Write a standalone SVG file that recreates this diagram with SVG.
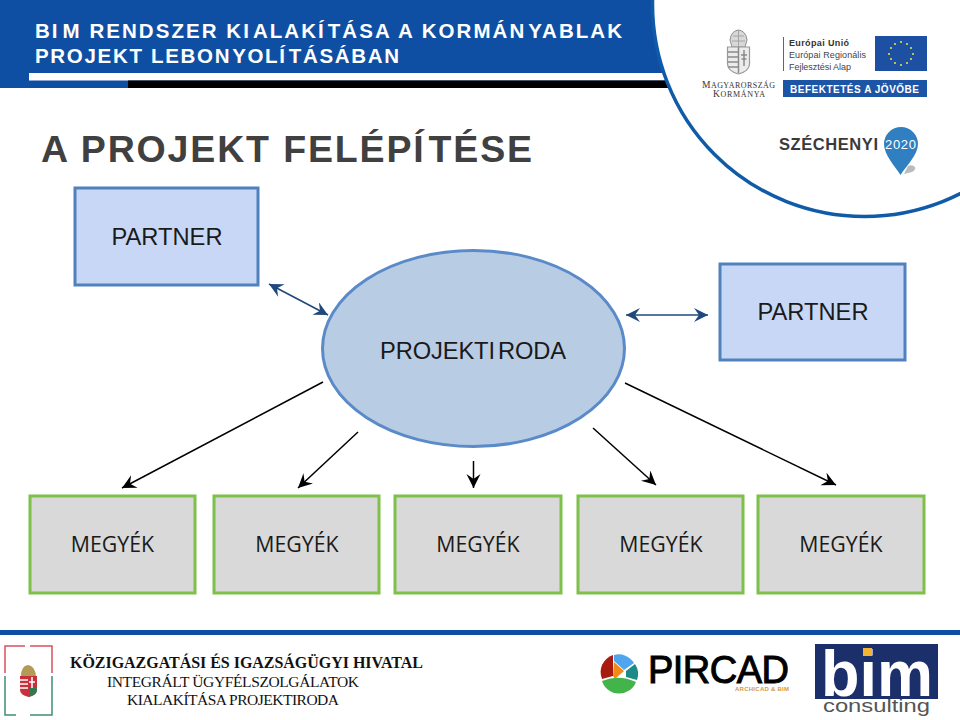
<svg xmlns="http://www.w3.org/2000/svg" width="960" height="720" viewBox="0 0 960 720">
<style>
text{font-family:"Liberation Sans",Arial,sans-serif}
.serif{font-family:"Liberation Serif","Times New Roman",serif}
.partner{fill:#c9d7f6;stroke:#4f81bd;stroke-width:3}
.megye{fill:#d9d9d9;stroke:#7fc04a;stroke-width:3}
.lbl{font-size:23.7px;fill:#1a1a1a;text-anchor:middle}
.mlbl{font-family:"Open Sans",sans-serif;font-size:21.3px;fill:#1a1a1a;text-anchor:middle}
.blue{fill:none;stroke:#1f497d;stroke-width:1.6;marker-start:url(#bs);marker-end:url(#be)}
.black{fill:none;stroke:#000;stroke-width:1.5;marker-end:url(#ke)}
</style>
<defs>
<marker id="be" markerUnits="userSpaceOnUse" markerWidth="20" markerHeight="16" refX="14" refY="7" orient="auto"><path d="M0 0L14 7L0 14L5 7Z" fill="#1f497d"/></marker>
<marker id="bs" markerUnits="userSpaceOnUse" markerWidth="20" markerHeight="16" refX="0" refY="7" orient="auto"><path d="M14 0L0 7L14 14L9 7Z" fill="#1f497d"/></marker>
<marker id="ke" markerUnits="userSpaceOnUse" markerWidth="20" markerHeight="16" refX="14" refY="7" orient="auto"><path d="M0 0L14 7L0 14L5 7Z" fill="#000"/></marker>
</defs>
<rect width="960" height="720" fill="#fff"/>
<g id="header">
<rect x="0" y="0" width="690" height="88" fill="#0f4fa3"/>
<rect x="29" y="73" width="660" height="7.5" fill="#fff"/>
<rect x="128" y="80.500" width="560" height="7.500" fill="#000"/>
<text y="37.500" x="35" font-size="20.500" font-weight="700" fill="#fff" textLength="587" lengthAdjust="spacing">BI<tspan dx="3">M</tspan> RENDSZER KI<tspan dx="2">ALAKÍ</tspan><tspan dx="2">TÁSA</tspan> A KORMÁN<tspan dx="2">YABLAK</tspan></text>
<text y="63" x="35" font-size="20.500" font-weight="700" fill="#fff" textLength="364" lengthAdjust="spacing">PROJEKT LEBON<tspan dx="1">YOLÍ</tspan><tspan dx="2">TÁSÁBAN</tspan></text>
<text id="title" x="41" y="162" font-size="37.500" font-weight="700" fill="#404040" textLength="491" lengthAdjust="spacing">A PROJEKT FELÉPÍ<tspan dx="3">TÉSE</tspan></text>
</g>
<g id="logos-top">
<circle cx="864.500" cy="4.500" r="212" fill="#fff" stroke="#0f5ba8" stroke-width="3.500"/>
<g id="coat-of-arms">
<path d="M730 40Q731 31 738.500 30Q746 31 747 40L745 47H732Z" fill="#d8d8d8" stroke="#8f8f8f" stroke-width="1"/>
<path d="M733 36H744M732 41H745M738.500 30V47" stroke="#9a9a9a" stroke-width="0.800" fill="none"/>
<path d="M727.500 47H749.500V64Q749.500 71 738.500 74Q727.500 71 727.500 64Z" fill="#ececec" stroke="#9a9a9a" stroke-width="1.200"/>
<path d="M738.500 47V73M728 52H738M728 57H738M728 62H738M728 67H738M744 50V66M741 55H747M741.500 59H746.500" stroke="#8a8a8a" stroke-width="1.500" fill="none"/>
</g>
<text class="serif" x="702" y="87.500" font-size="8" fill="#333" textLength="73" lengthAdjust="spacing"><tspan font-size="9.500">M</tspan>AGYARORSZÁG</text>
<text class="serif" x="713" y="97" font-size="8" fill="#333" textLength="52" lengthAdjust="spacing"><tspan font-size="9.500">K</tspan>ORMÁNYA</text>
<path d="M783.500 37V71" stroke="#666" stroke-width="1"/>
<text x="789" y="46" font-size="9" font-weight="700" fill="#333" textLength="60" lengthAdjust="spacing">Európai Unió</text>
<text x="789" y="58" font-size="9" fill="#444" textLength="77" lengthAdjust="spacing">Európai Regionális</text>
<text x="789" y="70" font-size="9" fill="#444" textLength="62" lengthAdjust="spacing">Fejlesztési Alap</text>
<rect x="875" y="36" width="52" height="35" fill="#1d4fa2"/>
<g fill="#d8e04a"><circle cx="901" cy="42" r="1.100"/><circle cx="907" cy="44" r="1.100"/><circle cx="911" cy="48" r="1.100"/><circle cx="913" cy="54" r="1.100"/><circle cx="911" cy="59" r="1.100"/><circle cx="907" cy="63" r="1.100"/><circle cx="901" cy="65" r="1.100"/><circle cx="895" cy="63" r="1.100"/><circle cx="891" cy="59" r="1.100"/><circle cx="889" cy="54" r="1.100"/><circle cx="891" cy="48" r="1.100"/><circle cx="895" cy="44" r="1.100"/></g>
<rect x="783" y="80" width="144" height="17" fill="#1d55a6"/>
<text x="790" y="92.500" font-size="10" font-weight="700" fill="#fff" textLength="129" lengthAdjust="spacing">BEFEKTETÉS A JÖVŐBE</text>
<text x="779" y="150" font-size="16.500" font-weight="700" fill="#3a3a3a" textLength="99" lengthAdjust="spacing">SZÉCHENYI</text>
<path d="M908 166Q912 164 915 167Q916 170 912 172L904 174Z" fill="#bbb"/>
<path d="M884 144A17 17 0 0 1 918 144C918 155 906 166 900.500 175C895 166 884 155 884 144Z" fill="#2f7fc1"/>
<text x="885" y="149" font-size="13" fill="#fff" textLength="31" lengthAdjust="spacing">2020</text>
</g>
<g id="partner-1"><rect class="partner" x="75" y="188" width="183" height="97"/><text class="lbl" x="167" y="245">PARTNER</text></g>
<g id="partner-2"><rect class="partner" x="720" y="264" width="185" height="96"/><text class="lbl" x="813" y="320">PARTNER</text></g>
<g id="projektiroda"><ellipse cx="473.500" cy="348.500" rx="151" ry="98" fill="#b8cce4" stroke="#5b8ac8" stroke-width="3"/><text class="lbl" x="380" y="359" style="text-anchor:start" textLength="186" lengthAdjust="spacing">PROJEKTI<tspan dx="3">RODA</tspan></text></g>
<g id="megye-1"><rect class="megye" x="30" y="496" width="165" height="97"/><text class="mlbl" x="112.500" y="552">MEGYÉK</text></g>
<g id="megye-2"><rect class="megye" x="214" y="496" width="165" height="97"/><text class="mlbl" x="297" y="552">MEGYÉK</text></g>
<g id="megye-3"><rect class="megye" x="395" y="496" width="166" height="97"/><text class="mlbl" x="478" y="552">MEGYÉK</text></g>
<g id="megye-4"><rect class="megye" x="578" y="496" width="165" height="97"/><text class="mlbl" x="661" y="552">MEGYÉK</text></g>
<g id="megye-5"><rect class="megye" x="758" y="496" width="166" height="97"/><text class="mlbl" x="841" y="552">MEGYÉK</text></g>
<g id="connectors">
<path class="blue" d="M269 284L328 315"/>
<path class="blue" d="M626 315H708"/>
<path class="black" d="M323 382L122 488"/>
<path class="black" d="M358 432L298 488"/>
<path class="black" d="M473.500 461V488"/>
<path class="black" d="M593 428L656 485"/>
<path class="black" d="M625 383L836 485"/>
</g>
<g id="footer">
<rect x="0" y="630" width="960" height="5" fill="#0f4fa3"/>
<path d="M5 673V646H25M30 646H52V673" fill="none" stroke="#d9505f" stroke-width="1.500"/>
<path d="M5 676V715H16M30 715H52V676" fill="none" stroke="#3f8f72" stroke-width="1.500"/>
<path d="M21 676Q21 666 28 665Q35 666 36 676Z" fill="#b39a55"/>
<path d="M20 676H37V690Q37 695 28.500 697Q20 695 20 690Z" fill="#c8303c"/>
<path d="M20 680H28M20 684H28M20 688H28M32 677V692M29 682H35" stroke="#fff" stroke-width="1.500" fill="none"/>
<path d="M29 697V688H37V690Q37 695 29 697Z" fill="#2f7a4f"/>
<text class="serif" x="70" y="668" font-size="16" font-weight="700" fill="#111" textLength="353" lengthAdjust="spacing">KÖZIGAZGATÁSI ÉS IGAZSÁGÜGYI HIVATAL</text>
<text class="serif" x="107" y="687" font-size="15.500" fill="#111" textLength="252" lengthAdjust="spacing">INTEGRÁLT ÜGYFÉLSZOLGÁLATOK</text>
<text class="serif" x="127" y="705" font-size="15.500" fill="#111" textLength="212" lengthAdjust="spacing">KIALAKÍTÁSA PROJEKTIRODA</text>
<g id="pircad">
<circle cx="619" cy="672" r="18" fill="#fff"/>
<path d="M613 655A18 18 0 0 0 602 679L613 676Z" fill="#a81c10"/>
<path d="M614 655A18 18 0 0 1 634 663L624 670L614 661Z" fill="#4fa6ee"/>
<path d="M614 662L624 671L615 679L613 676Z" fill="#f28a1a"/>
<path d="M635 664A18 18 0 0 1 637 680L626 677L626 671Z" fill="#1c8a86"/>
<path d="M602 681Q619 674 636 682A18 18 0 0 1 602 681Z" fill="#43b44a"/>
<text x="648" y="683" font-size="38" fill="#000" stroke="#000" stroke-width="1" textLength="141" lengthAdjust="spacing">PIRCAD</text>
<text x="735" y="691" font-size="6" font-weight="700" fill="#cf9a3e" textLength="54" lengthAdjust="spacing">ARCHICAD &amp; BIM</text>
</g>
<g id="bim-consulting">
<rect x="815" y="644" width="123" height="55" fill="#1b2f6b"/>
<text x="821" y="696" font-size="64" font-weight="700" fill="#fff" textLength="112" lengthAdjust="spacingAndGlyphs">bim</text>
<rect x="863" y="648" width="9" height="8" fill="#f5b335"/>
<text x="823" y="712" font-size="19" fill="#555" textLength="107" lengthAdjust="spacingAndGlyphs">consulting</text>
</g>
</g>
</svg>
